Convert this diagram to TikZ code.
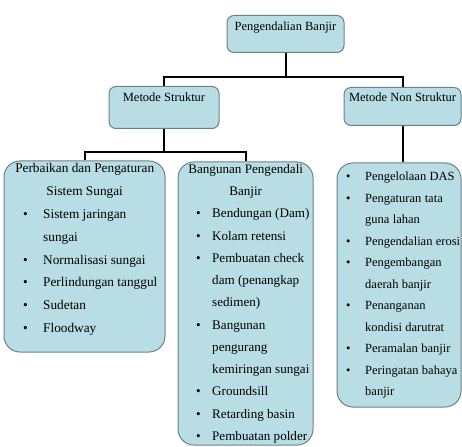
\documentclass[tikz,border=0pt]{standalone}
\usepackage{fontspec}
\setmainfont{Liberation Serif}
\usetikzlibrary{calc}
\definecolor{boxfill}{HTML}{B8DDE4}
\definecolor{boxline}{HTML}{6E8087}
\newlength\hangw
\newlength\bulx
\newcommand{\bitem}[1]{\noindent\makebox[\hangw][l]{\hspace{\bulx}\textbullet}\mbox{#1}\par}
\newcommand{\bcont}[1]{\noindent\hspace*{\hangw}\mbox{#1}\par}
\newcommand{\hd}[1]{\noindent\makebox[\linewidth]{#1}\par}
\begin{document}
\begin{tikzpicture}[x=1pt,y=-1pt,
  box/.style={draw=boxline, fill=boxfill, line width=1pt, rounded corners=7pt, inner xsep=2pt, inner ysep=4pt, font=\fontsize{12.5}{15}\selectfont},
  bigbox/.style={draw=boxline, fill=boxfill, line width=1pt, rounded corners=16pt, inner sep=0pt},
  listtext/.style={anchor=north west, inner sep=0pt, align=left},
  conn/.style={line width=2pt, black}]
\useasboundingbox (0,0) rectangle (462,446);

% header boxes
\node[box, anchor=north, minimum width=117pt, text height=11pt, text depth=18pt] (top) at (285.5,15) {Pengendalian Banjir};
\node[box, anchor=north, minimum width=110pt, text height=11pt, text depth=23pt] (ms) at (164,86) {Metode Struktur};
\node[box, anchor=north, minimum width=117pt, text height=10pt, text depth=20pt] (mns) at (402.5,87) {Metode Non Struktur};

% big boxes
\node[bigbox, minimum width=161pt, minimum height=191pt] (lb) at (84.5,256.5) {};
\node[bigbox, minimum width=135pt, minimum height=283pt] (mb) at (245.5,303.5) {};
\node[bigbox, minimum width=124pt, minimum height=244pt] (rb) at (399,285) {};

% texts
\node[listtext, text width=145pt] (lbt) at (12,163) {\fontsize{13.3}{22.9}\selectfont%
  \setlength\bulx{11pt}\setlength\hangw{31pt}%
  \hd{Perbaikan dan Pengaturan}%
  \hd{Sistem Sungai}%
  \bitem{Sistem jaringan}%
  \bcont{sungai}%
  \bitem{Normalisasi sungai}%
  \bitem{Perlindungan tanggul}%
  \bitem{Sudetan}%
  \bitem{Floodway}};

\node[listtext, text width=119pt] (mbt) at (186,164) {\fontsize{13.1}{22.25}\selectfont%
  \setlength\bulx{10pt}\setlength\hangw{26pt}%
  \hd{Bangunan Pengendali}%
  \hd{Banjir}%
  \bitem{Bendungan (Dam)}%
  \bitem{Kolam retensi}%
  \bitem{Pembuatan check}%
  \bcont{dam (penangkap}%
  \bcont{sedimen)}%
  \bitem{Bangunan}%
  \bcont{pengurang}%
  \bcont{kemiringan sungai}%
  \bitem{Groundsill}%
  \bitem{Retarding basin}%
  \bitem{Pembuatan polder}};

\node[listtext, text width=114pt] (rbt) at (342,172) {\fontsize{12.5}{21.5}\selectfont%
  \setlength\bulx{4pt}\setlength\hangw{23pt}%
  \bitem{Pengelolaan DAS}%
  \bitem{Pengaturan tata}%
  \bcont{guna lahan}%
  \bitem{Pengendalian erosi}%
  \bitem{Pengembangan}%
  \bcont{daerah banjir}%
  \bitem{Penanganan}%
  \bcont{kondisi darutrat}%
  \bitem{Peramalan banjir}%
  \bitem{Peringatan bahaya}%
  \bcont{banjir}};

% connectors
\draw[conn] (top.south) -- ++(0,24) coordinate (j1);
\draw[conn] (ms.north) |- (j1) -| (mns.north);
\draw[conn] (ms.south) -- ++(0,23) coordinate (j2);
\draw[conn] (lb.north) |- (j2) -| (mb.north);
\draw[conn] (mns.south) -- (mns.south |- rb.north);
\end{tikzpicture}
\end{document}
